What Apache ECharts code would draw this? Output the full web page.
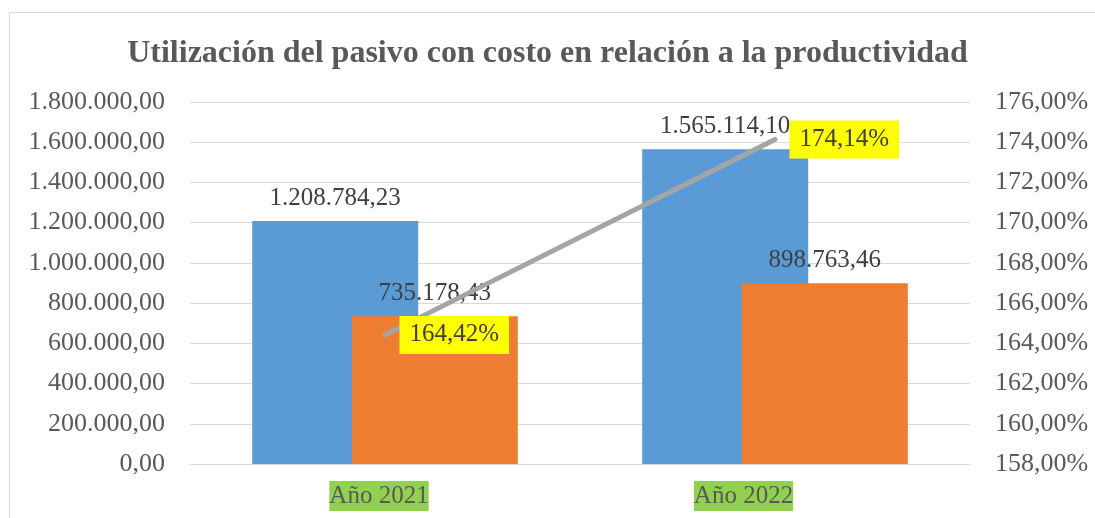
<!DOCTYPE html>
<html>
<head>
<meta charset="utf-8">
<script src="https://cdn.jsdelivr.net/npm/echarts@6/dist/echarts.min.js"></script>
<style>
  html, body { margin: 0; padding: 0; background: #fff; }
  #chart { width: 1095px; height: 518px; }
</style>
</head>
<body>
<div id="chart"></div>
<script>
const categories = ['Año 2021', 'Año 2022'];
const pasivoCosto = [1208784.23, 1565114.10];
const productividad = [735178.43, 898763.46];
const relacion = [164.42, 174.14];

const FONT = '"Liberation Serif", "Times New Roman", serif';

const fmtMoney = (v) => {
  const parts = Number(v).toFixed(2).split('.');
  return parts[0].replace(/\B(?=(\d{3})+(?!\d))/g, '.') + ',' + parts[1];
};
const fmtPct = (v) => Number(v).toFixed(2).replace('.', ',') + '%';

const chart = echarts.init(document.getElementById('chart'));

const barLabel = {
  show: true,
  position: 'top',
  distance: 10,
  color: '#404040',
  fontFamily: FONT,
  fontSize: 25,
  formatter: (p) => fmtMoney(p.value),
};

chart.setOption({
  animation: false,
  textStyle: { fontFamily: FONT },
  title: {
    text: 'Utilización del pasivo con costo en relación a la productividad',
    left: 'center',
    top: 33,
    textStyle: { fontFamily: FONT, fontSize: 32, fontWeight: 'bold', color: '#595959' },
  },
  graphic: [
    {
      type: 'rect',
      shape: { x: 9.5, y: 12.5, width: 1200, height: 600 },
      style: { fill: 'none', stroke: '#D9D9D9', lineWidth: 1 },
      silent: true,
    },
  ],
  grid: { left: 190, right: 125, top: 102, bottom: 54 },
  xAxis: {
    type: 'category',
    data: categories,
    axisTick: { show: false },
    axisLine: { lineStyle: { color: '#D9D9D9', width: 1 } },
    axisLabel: {
      margin: 17,
      formatter: (v, i) => '{a|' + v + '}{s' + i + '|}',
      rich: {
        a: { fontFamily: FONT, fontSize: 25, color: '#595959', backgroundColor: '#92D050', lineHeight: 30, height: 30 },
        s0: { width: 12 },
        s1: { width: 63 },
      },
    },
  },
  yAxis: [
    {
      type: 'value',
      min: 0,
      max: 1800000,
      interval: 200000,
      axisLine: { show: false },
      axisTick: { show: false },
      splitLine: { lineStyle: { color: '#D9D9D9', width: 1 } },
      axisLabel: { margin: 25, fontFamily: FONT, fontSize: 26, color: '#595959', formatter: fmtMoney },
    },
    {
      type: 'value',
      min: 158,
      max: 176,
      interval: 2,
      position: 'right',
      axisLine: { show: false },
      axisTick: { show: false },
      splitLine: { show: false },
      axisLabel: { margin: 25, fontFamily: FONT, fontSize: 26, color: '#595959', formatter: fmtPct },
    },
  ],
  series: [
    {
      name: 'Pasivo con costo',
      type: 'bar',
      data: pasivoCosto,
      barWidth: 166,
      barGap: '-40%',
      itemStyle: { color: '#5B9BD5' },
      label: barLabel,
    },
    {
      name: 'Productividad',
      type: 'bar',
      data: productividad,
      barWidth: 166,
      itemStyle: { color: '#ED7D31' },
      label: barLabel,
    },
    {
      name: 'Relación',
      type: 'line',
      yAxisIndex: 1,
      data: relacion,
      symbol: 'circle',
      symbolSize: 1,
      itemStyle: { color: '#A5A5A5' },
      lineStyle: { color: '#A5A5A5', width: 5, cap: 'round' },
      z: 5,
      label: {
        show: true,
        position: 'right',
        distance: 14,
        color: '#404040',
        fontFamily: FONT,
        fontSize: 25,
        backgroundColor: '#FFFF00',
        padding: [7, 10, 6, 10],
        formatter: (p) => fmtPct(p.value),
      },
    },
  ],
});
</script>
</body>
</html>
